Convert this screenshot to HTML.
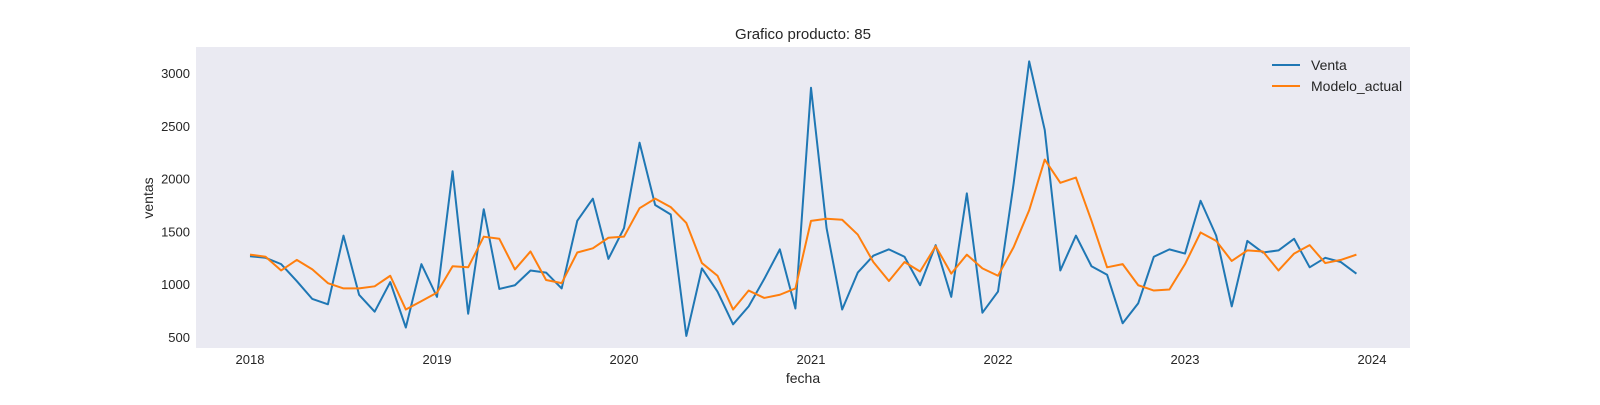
<!DOCTYPE html>
<html><head><meta charset="utf-8"><style>
body{margin:0;background:#fff;font-family:"Liberation Sans",sans-serif;}
svg text{font-family:"Liberation Sans",sans-serif;fill:#262626;}
</style></head><body>
<svg width="1600" height="400">
<rect x="196" y="47" width="1214" height="301" fill="#eaeaf2"/>
<text x="803" y="39" font-size="15" text-anchor="middle">Grafico producto: 85</text>
<g id="xt"></g><g id="yt"></g>
<text x="803" y="383" font-size="14" text-anchor="middle">fecha</text>
<text transform="translate(153,198) rotate(-90)" font-size="14" text-anchor="middle">ventas</text>
<g id="lines"></g>
<g>
<line x1="1272" y1="65" x2="1300" y2="65" stroke="#1f77b4" stroke-width="2"/>
<text x="1311" y="70" font-size="14">Venta</text>
<line x1="1272" y1="86" x2="1300" y2="86" stroke="#ff7f0e" stroke-width="2"/>
<text x="1311" y="91" font-size="14">Modelo_actual</text>
</g>
</svg>
<script>
const years=[2018,2019,2020,2021,2022,2023,2024];
const yTicks=[500,1000,1500,2000,2500,3000];
const venta=[1265,1250,1190,1030,860,810,1460,900,740,1020,590,1190,
880,2070,720,1710,955,990,1130,1110,960,1600,1810,1240,
1530,2340,1750,1660,510,1150,930,620,790,1050,1330,770,
2860,1530,760,1110,1270,1330,1260,990,1370,880,1860,730,
930,1950,3110,2460,1130,1460,1170,1090,630,820,1260,1330,
1290,1790,1460,790,1410,1300,1320,1430,1160,1250,1210,1100];
const modelo=[1280,1260,1130,1230,1140,1010,960,960,980,1080,760,840,
920,1170,1160,1450,1430,1140,1310,1040,1010,1300,1340,1440,
1450,1720,1810,1730,1580,1200,1080,760,940,870,900,960,
1600,1620,1610,1470,1210,1030,1210,1120,1360,1100,1280,1150,
1080,1350,1700,2180,1960,2010,1600,1160,1190,990,940,950,
1190,1490,1410,1220,1320,1310,1130,1290,1370,1200,1230,1280];
const NS="http://www.w3.org/2000/svg";
const xs=m=>250+m*(1122/72);
const ys=v=>337-(v-500)*(264/2500);
const xt=document.getElementById('xt');
years.forEach((y,i)=>{const t=document.createElementNS(NS,'text');
t.setAttribute('x',xs(i*12));t.setAttribute('y',364);t.setAttribute('font-size','13');t.setAttribute('text-anchor','middle');t.textContent=y;


xt.appendChild(t);});
const yt=document.getElementById('yt');
yTicks.forEach(v=>{const t=document.createElementNS(NS,'text');
t.setAttribute('x',190);t.setAttribute('y',ys(v)+5);t.setAttribute('font-size','13');t.setAttribute('text-anchor','end');t.textContent=v;


yt.appendChild(t);});
const g=document.getElementById('lines');
function line(d,c,n){const p=document.createElementNS(NS,'polyline');
p.setAttribute('points',d.map((v,i)=>xs(i)+','+ys(v)).join(' '));
p.setAttribute('fill','none');p.setAttribute('stroke',c);p.setAttribute('stroke-width','2');p.setAttribute('stroke-linejoin','round');


g.appendChild(p);}
line(venta,'#1f77b4','venta-line');
line(modelo,'#ff7f0e','modelo-actual-line');
</script>
</body></html>
